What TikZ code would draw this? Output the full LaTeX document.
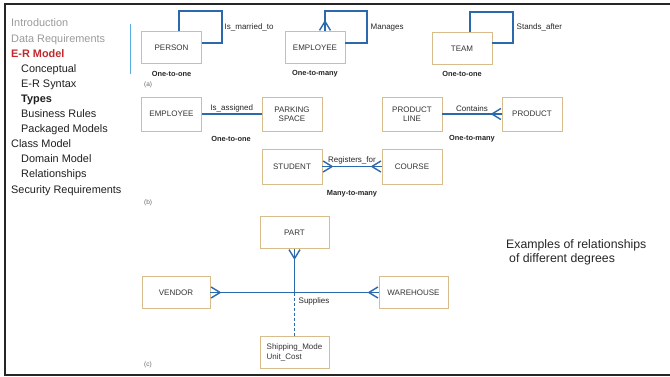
\documentclass[tikz,border=0pt]{standalone}
\usepackage{fontspec}
\setmainfont{Liberation Sans}
\usetikzlibrary{arrows.meta,calc}

\definecolor{boxtan}{HTML}{D9BC8C}
\definecolor{relblue}{HTML}{2C68AC}
\definecolor{menugrey}{HTML}{9A9A9A}
\definecolor{menured}{HTML}{C0282D}
\definecolor{rulecyan}{HTML}{5AAFE0}

\tikzset{
  menu/.style={anchor=base west, inner sep=0pt, text=black!88,
    font=\fontsize{10.9}{12}\selectfont},
  entity/.style={draw=boxtan, line width=0.8pt, minimum width=60pt,
    minimum height=32pt, inner sep=1pt, align=center, text=black!80,
    font=\fontsize{8}{9.5}\selectfont},
  rel/.style={draw=relblue, line width=1.4pt},
  rlabel/.style={inner sep=1.5pt, text=black!85, font=\fontsize{8}{9}\selectfont},
  card/.style={inner sep=0pt, text=black!85, font=\bfseries\fontsize{7.4}{9}\selectfont},
  tag/.style={anchor=west, inner sep=0pt, text=black!60, font=\fontsize{6.5}{7}\selectfont},
  crow/.tip={Straight Barb[reversed, length=9pt, width=11pt]},
  % full line underneath, crow's feet drawn on top
  feet/.style={postaction={draw=relblue, line width=1.4pt, #1}}
}

\begin{document}
\begin{tikzpicture}[x=1pt,y=-1pt]
  \useasboundingbox (0,0) rectangle (670,377);
  \draw[line width=2pt, black!85] (672,4) -| (5,375) -- (672,375);

  % side menu
  \node[menu, text=menugrey] (intro) at (11,27) {Introduction};
  \node[menu, text=menugrey] (datareq) at (11,42.1) {Data Requirements};
  \node[menu, text=menured, font=\bfseries\fontsize{10.9}{12}\selectfont] (ermodel) at (11,57.2) {E-R Model};
  \node[menu] (concept) at (21,72.3) {Conceptual};
  \node[menu] (syntax) at (21,87.4) {E-R Syntax};
  \node[menu, font=\bfseries\fontsize{10.9}{12}\selectfont] (types) at (21,102.5) {Types};
  \node[menu] (rules) at (21,117.6) {Business Rules};
  \node[menu] (packaged) at (21,132.7) {Packaged Models};
  \node[menu] (classmodel) at (11,147.8) {Class Model};
  \node[menu] (domain) at (21,162.9) {Domain Model};
  \node[menu] (relships) at (21,178) {Relationships};
  \node[menu] (security) at (11,193.1) {Security Requirements};
  \draw[rulecyan, line width=1pt] (130,24) -- (130,74);

  % (a) unary
  \node[entity] (person) at (171.5,47.5) {PERSON};
  \node[entity] (emp) at (315,47.5) {EMPLOYEE};
  \node[entity] (team) at (462,48.5) {TEAM};
  \draw[rel] ([xshift=7.5pt]person.north) |- ++(43,-20) |- ([yshift=4.5pt]person.east);
  \draw[rel, feet={crow-}] ([xshift=10pt]emp.north) |- ++(42,-20) |- ([yshift=4.5pt]emp.east);
  \draw[rel] ([xshift=8pt]team.north) |- ++(43,-20) |- ([yshift=5.5pt]team.east);
  \node[rlabel, anchor=west] (married) at (223,27.5) {Is\_married\_to};
  \node[rlabel, anchor=west] (manages) at (369,27.5) {Manages};
  \node[rlabel, anchor=west] (after) at (515,27.5) {Stands\_after};
  \node[card] (cardA1) at (171.5,74) {One-to-one};
  \node[card] (cardA2) at (315,74) {One-to-many};
  \node[card] (cardA3) at (462,74) {One-to-one};
  \node[tag] (taga) at (144,85) {(a)};

  % (b) binary
  \node[entity, minimum height=34pt] (emp2) at (171.5,114) {EMPLOYEE};
  \node[entity, minimum height=34pt] (park) at (292,114) {PARKING\\SPACE};
  \node[entity, minimum height=34pt] (pline) at (412,114) {PRODUCT\\LINE};
  \node[entity, minimum height=34pt] (prod) at (532,114) {PRODUCT};
  \node[entity, minimum height=35pt] (stud) at (292,166.5) {STUDENT};
  \node[entity, minimum height=35pt] (course) at (412,166.5) {COURSE};
  \draw[rel] (emp2) -- node[rlabel, above] (assigned) {Is\_assigned} (park);
  \draw[rel, feet={-crow}] (pline) -- node[rlabel, above] (contains) {Contains} (prod);
  \draw[rel, feet={crow-crow}] (stud) -- node[rlabel, above] (registers) {Registers\_for} (course);
  \node[card] (cardB1) at (231,139) {One-to-one};
  \node[card] (cardB2) at (472,139) {One-to-many};
  \node[card] (cardB3) at (352,194) {Many-to-many};
  \node[tag] (tagb) at (144,203) {(b)};

  % (c) ternary
  \node[entity, minimum width=69pt] (part) at (294.5,232.5) {PART};
  \node[entity, minimum width=68pt] (vendor) at (176,292.5) {VENDOR};
  \node[entity, minimum width=69pt] (ware) at (413.5,292.5) {WAREHOUSE};
  \node[entity, minimum width=69pt, align=left] (attr) at (294.5,352.5) {Shipping\_Mode\\Unit\_Cost};
  \coordinate (hub) at (part |- vendor);
  \draw[rel, feet={crow-crow}] (vendor) -- (ware);
  \draw[rel, feet={crow-}] (part) -- (hub);
  \draw[rel, dash pattern=on 3pt off 2pt] (hub) -- (attr);
  \node[rlabel, anchor=west] (supplies) at (297,301.5) {Supplies};
  \node[tag] (tagc) at (144,365) {(c)};

  \node[anchor=west, align=left, inner sep=0pt, text=black!85,
    font=\fontsize{12.3}{14}\selectfont] (caption) at (506,252)
    {Examples of relationships\\\hspace*{3pt}of different degrees};
\end{tikzpicture}
\end{document}
